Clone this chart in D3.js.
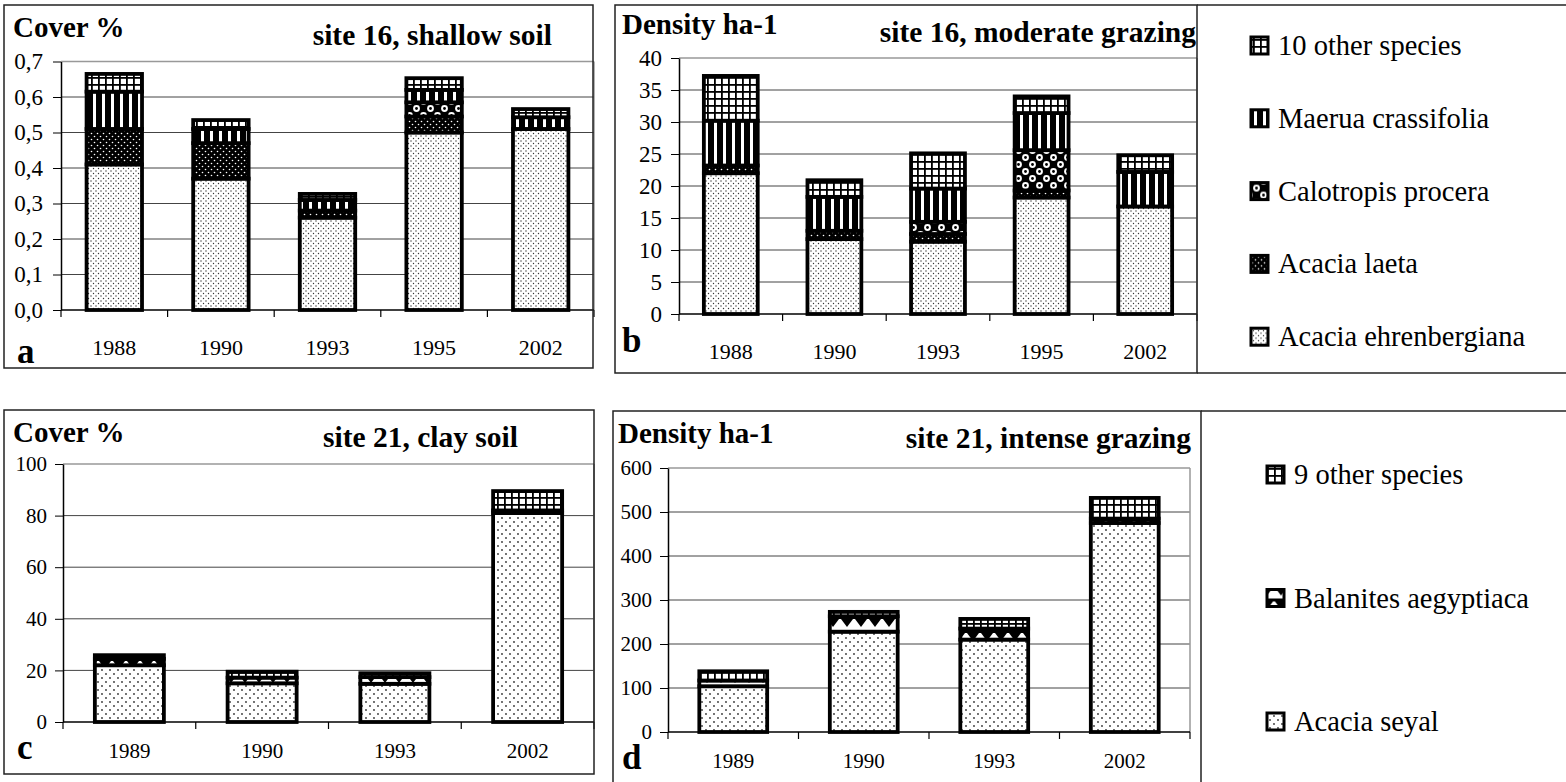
<!DOCTYPE html>
<html>
<head>
<meta charset="utf-8">
<script src="https://cdn.jsdelivr.net/npm/d3@7"></script>
<style>
  body { margin: 0; background: #fff; }
  svg { display: block; }
</style>
</head>
<body>
<div id="fig"></div>
<script>
// site 16 (panels a, b)
var years16 = ["1988", "1990", "1993", "1995", "2002"];
var species16 = ["ehrenbergiana", "laeta", "calotropis", "maerua", "other16"];
var legend16 = ["10 other species", "Maerua crassifolia", "Calotropis procera", "Acacia laeta", "Acacia ehrenbergiana"];
var legendKeys16 = ["other16", "maerua", "calotropis", "laeta", "ehrenbergiana"];

var cover16Ehrenbergiana = [0.41, 0.37, 0.26, 0.50, 0.51];
var cover16Laeta = [0.10, 0.10, 0.02, 0.045, 0];
var cover16Calotropis = [0, 0, 0, 0.04, 0];
var cover16Maerua = [0.105, 0.04, 0.03, 0.035, 0.033];
var cover16Other = [0.05, 0.025, 0.017, 0.033, 0.023];

var density16Ehrenbergiana = [22, 11.7, 11.3, 18.2, 16.8];
var density16Laeta = [1.2, 1.3, 1.2, 1.1, 0];
var density16Calotropis = [0, 0, 1.9, 6.3, 0];
var density16Maerua = [7, 5.3, 5.2, 5.8, 5.4];
var density16Other = [7, 2.6, 5.5, 2.6, 2.6];

// site 21 (panels c, d)
var years21 = ["1989", "1990", "1993", "2002"];
var species21 = ["seyal", "balanites", "other21"];
var legend21 = ["9 other species", "Balanites aegyptiaca", "Acacia seyal"];
var legendKeys21 = ["other21", "balanites", "seyal"];

var cover21Seyal = [22, 15, 14.8, 81];
var cover21Balanites = [2.5, 2.2, 2.6, 1];
var cover21Other = [1.4, 2.3, 1.5, 7.5];

var density21Seyal = [104, 228, 210, 475];
var density21Balanites = [13, 35, 25, 10];
var density21Other = [21, 10, 22, 47];

var serif = "'Liberation Serif', 'Times New Roman', serif";

var svg = d3.select("#fig")
  .append("svg")
  .attr("width", 1566)
  .attr("height", 782)
  .style("font-family", serif);

svg.append("rect").attr("width", 1566).attr("height", 782).attr("fill", "#fff");

// fill patterns (black & white like the original)
var defs = svg.append("defs");

function addPattern(id, w, h, bg, draw) {
  var p = defs.append("pattern")
    .attr("id", "pat-" + id)
    .attr("patternUnits", "userSpaceOnUse")
    .attr("width", w).attr("height", h);
  p.append("rect").attr("width", w).attr("height", h).attr("fill", bg);
  draw(p);
}

addPattern("ehrenbergiana", 5, 5, "#fff", function (p) {
  p.append("circle").attr("cx", 1).attr("cy", 1).attr("r", 0.7).attr("fill", "#333");
  p.append("circle").attr("cx", 3.5).attr("cy", 3.5).attr("r", 0.7).attr("fill", "#333");
});
addPattern("seyal", 8, 8, "#fff", function (p) {
  p.append("circle").attr("cx", 2).attr("cy", 2).attr("r", 0.9).attr("fill", "#333");
  p.append("circle").attr("cx", 6).attr("cy", 6).attr("r", 0.9).attr("fill", "#333");
});
addPattern("laeta", 6, 6, "#000", function (p) {
  p.append("circle").attr("cx", 1.5).attr("cy", 1.5).attr("r", 0.8).attr("fill", "#fff");
  p.append("circle").attr("cx", 4.5).attr("cy", 4.5).attr("r", 0.8).attr("fill", "#fff");
});
addPattern("calotropis", 14, 14, "#000", function (p) {
  [[3.5, 3.5], [10.5, 10.5]].forEach(function (c) {
    p.append("circle").attr("cx", c[0]).attr("cy", c[1]).attr("r", 3.4).attr("fill", "#fff");
    p.append("circle").attr("cx", c[0]).attr("cy", c[1]).attr("r", 1.4).attr("fill", "#000");
  });
});
addPattern("maerua", 9, 9, "#000", function (p) {
  p.append("rect").attr("x", 3).attr("width", 3).attr("height", 9).attr("fill", "#fff");
});
addPattern("other16", 7, 7, "#000", function (p) {
  p.append("rect").attr("x", 1.8).attr("y", 1.8).attr("width", 5.2).attr("height", 5.2).attr("fill", "#fff");
});
addPattern("other21", 7, 7, "#000", function (p) {
  p.append("rect").attr("x", 1.8).attr("y", 1.8).attr("width", 5.2).attr("height", 5.2).attr("fill", "#fff");
});
addPattern("balanites", 14, 14, "#fff", function (p) {
  p.append("rect").attr("width", 14).attr("height", 3).attr("fill", "#000");
  p.append("path").attr("d", "M1,3L13,3L7,11Z").attr("fill", "#000");
});

var commaFmt = function (d) { return d3.format(".1f")(d).replace(".", ","); };
var intFmt = d3.format("d");

function drawPanel(p) {
  var g = svg.append("g").attr("id", "panel-" + p.letter);

  var x = d3.scaleBand()
    .domain(p.years)
    .range([p.x0, p.x1])
    .paddingInner(0.48)
    .paddingOuter(0.24);

  var y = d3.scaleLinear()
    .domain([0, p.yMax])
    .range([p.y0, p.y1]);

  var ticks = y.ticks(p.nTicks);

  // grid
  g.append("g").selectAll("line")
    .data(ticks.filter(function (t) { return t > 0; }))
    .join("line")
    .attr("x1", p.x0).attr("x2", p.x1)
    .attr("y1", function (d) { return y(d); })
    .attr("y2", function (d) { return y(d); })
    .attr("stroke", function (d, i, n) { return i === n.length - 1 ? "#999" : "#444"; })
    .attr("stroke-width", function (d, i, n) { return i === n.length - 1 ? 1.5 : 1; });

  g.append("line")
    .attr("x1", p.x1).attr("x2", p.x1)
    .attr("y1", y(p.yMax)).attr("y2", y(0))
    .attr("stroke", "#999").attr("stroke-width", 1.5);

  // y axis
  var ya = g.append("g")
    .attr("transform", "translate(" + p.x0 + ",0)")
    .call(d3.axisLeft(y).tickValues(ticks).tickSize(8).tickSizeOuter(0)
      .tickPadding(p.tickPad).tickFormat(p.fmt));
  ya.attr("font-family", serif).attr("font-size", p.tickFont);
  ya.select(".domain").attr("stroke", "#000").attr("stroke-width", 1.5);
  ya.selectAll(".tick line").attr("stroke", "#000");
  ya.selectAll("text").attr("fill", "#000");

  // stacked bars
  var rows = p.years.map(function (yr, i) {
    var r = { year: yr };
    p.keys.forEach(function (k, j) { r[k] = p.values[j][i]; });
    return r;
  });
  var series = d3.stack().keys(p.keys)(rows);

  g.append("g").selectAll("g")
    .data(series)
    .join("g")
    .attr("fill", function (s) { return "url(#pat-" + s.key + ")"; })
    .selectAll("rect")
    .data(function (s) { return s.filter(function (d) { return d[1] - d[0] > 0; }); })
    .join("rect")
    .attr("x", function (d) { return x(d.data.year); })
    .attr("width", x.bandwidth())
    .attr("y", function (d) { return y(d[1]); })
    .attr("height", function (d) { return y(d[0]) - y(d[1]); })
    .attr("stroke", "#000")
    .attr("stroke-width", 3.8);

  // x axis with ticks between categories
  g.append("line")
    .attr("x1", p.x0).attr("x2", p.x1)
    .attr("y1", y(0)).attr("y2", y(0))
    .attr("stroke", "#000").attr("stroke-width", 1.5);

  g.append("g").selectAll("line")
    .data(d3.range(p.years.length + 1))
    .join("line")
    .attr("x1", function (i) { return p.x0 + i * x.step(); })
    .attr("x2", function (i) { return p.x0 + i * x.step(); })
    .attr("y1", y(0)).attr("y2", y(0) + 7)
    .attr("stroke", "#000").attr("stroke-width", 1.2);

  g.append("g").selectAll("text")
    .data(p.years)
    .join("text")
    .attr("x", function (d) { return x(d) + x.bandwidth() / 2; })
    .attr("y", p.yearBase)
    .attr("text-anchor", "middle")
    .attr("font-size", p.yearFont)
    .text(function (d) { return d; });

  // labels
  g.append("text")
    .attr("x", p.unitX).attr("y", p.unitY)
    .attr("font-size", 29).attr("font-weight", "bold")
    .text(p.unit);

  g.append("text")
    .attr("x", p.titleX).attr("y", p.titleY)
    .attr("text-anchor", "end")
    .attr("font-size", 29.5).attr("font-weight", "bold")
    .text(p.title);

  g.append("text")
    .attr("x", p.letterX).attr("y", p.letterY)
    .attr("font-size", 35).attr("font-weight", "bold")
    .text(p.letter);

  // frame
  g.append("rect")
    .attr("x", p.frame[0]).attr("y", p.frame[1])
    .attr("width", p.frame[2] - p.frame[0])
    .attr("height", p.frame[3] - p.frame[1])
    .attr("fill", "none")
    .attr("stroke", "#222").attr("stroke-width", 1.5);
}

drawPanel({
  letter: "a", years: years16, keys: species16,
  values: [cover16Ehrenbergiana, cover16Laeta, cover16Calotropis, cover16Maerua, cover16Other],
  yMax: 0.7, nTicks: 7, fmt: commaFmt,
  x0: 61, x1: 594, y0: 310, y1: 61.5,
  tickPad: 10, tickFont: 23, yearFont: 22, yearBase: 355,
  unit: "Cover %", unitX: 13, unitY: 37,
  title: "site 16, shallow soil", titleX: 552, titleY: 45,
  letterX: 17, letterY: 363,
  frame: [4, 5, 593, 368]
});

drawPanel({
  letter: "b", years: years16, keys: species16,
  values: [density16Ehrenbergiana, density16Laeta, density16Calotropis, density16Maerua, density16Other],
  yMax: 40, nTicks: 8, fmt: intFmt,
  x0: 679, x1: 1197, y0: 314, y1: 58,
  tickPad: 9, tickFont: 23, yearFont: 22, yearBase: 359,
  unit: "Density ha-1", unitX: 622, unitY: 34,
  title: "site 16, moderate grazing", titleX: 1196, titleY: 42,
  letterX: 622, letterY: 352,
  frame: [615, 5, 1197, 373]
});

drawPanel({
  letter: "c", years: years21, keys: species21,
  values: [cover21Seyal, cover21Balanites, cover21Other],
  yMax: 100, nTicks: 5, fmt: intFmt,
  x0: 63, x1: 594, y0: 722, y1: 464,
  tickPad: 8, tickFont: 21, yearFont: 21, yearBase: 758,
  unit: "Cover %", unitX: 13, unitY: 442,
  title: "site 21, clay soil", titleX: 518, titleY: 447,
  letterX: 17, letterY: 759,
  frame: [4, 410, 594, 774]
});

drawPanel({
  letter: "d", years: years21, keys: species21,
  values: [density21Seyal, density21Balanites, density21Other],
  yMax: 600, nTicks: 6, fmt: intFmt,
  x0: 668, x1: 1190, y0: 732, y1: 468,
  tickPad: 8, tickFont: 21, yearFont: 21, yearBase: 768,
  unit: "Density ha-1", unitX: 618, unitY: 443,
  title: "site 21, intense grazing", titleX: 1191, titleY: 448,
  letterX: 622, letterY: 769,
  frame: [613, 411, 1201, 795]
});

// legends
function drawLegend(labels, keys, iconX, textX, firstY, gap, top, bottom, left) {
  var lg = svg.append("g");
  lg.append("line").attr("x1", left).attr("x2", 1566).attr("y1", top).attr("y2", top)
    .attr("stroke", "#222").attr("stroke-width", 1.5);
  if (bottom !== null) {
    lg.append("line").attr("x1", left).attr("x2", 1566).attr("y1", bottom).attr("y2", bottom)
      .attr("stroke", "#222").attr("stroke-width", 1.5);
  }
  var item = lg.selectAll("g.item")
    .data(labels)
    .join("g")
    .attr("class", "item")
    .attr("transform", function (d, i) { return "translate(0," + (firstY + i * gap) + ")"; });
  item.append("rect")
    .attr("x", iconX).attr("y", -9)
    .attr("width", 17).attr("height", 17)
    .attr("fill", function (d, i) { return "url(#pat-" + keys[i] + ")"; })
    .attr("stroke", "#000").attr("stroke-width", 3);
  item.append("text")
    .attr("x", textX).attr("y", 9)
    .attr("font-size", 28.5)
    .text(function (d) { return d; });
}

drawLegend(legend16, legendKeys16, 1251, 1278, 46, 72.8, 5, 373, 1197);
drawLegend(legend21, legendKeys21, 1267, 1294, 475, 123.5, 411, null, 1201);
</script>
</body>
</html>
